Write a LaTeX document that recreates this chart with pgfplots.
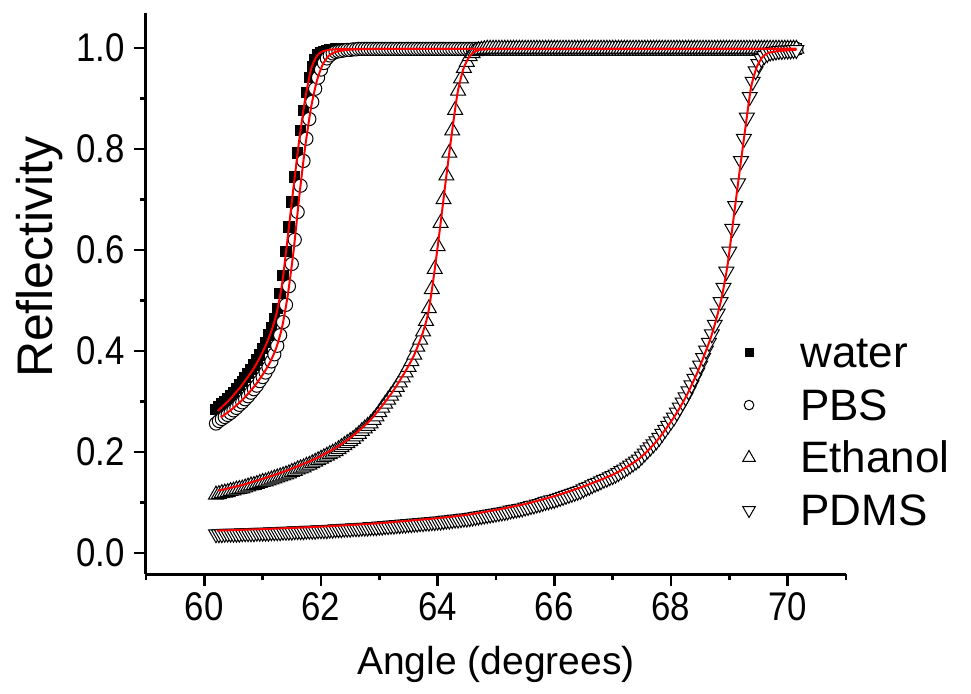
\documentclass[border=0pt]{standalone}
\usepackage{fontspec}
\setmainfont{Liberation Sans}
\newfontfamily\tickfont{Liberation Sans}[FakeStretch=0.87]
\usepackage{pgfplots}
\usepackage{pgfplotstable}
\pgfplotsset{compat=1.18}

% measured reflectivity, one row per angle step
\pgfplotstableread{
x water pbs eth pdms
60.20 0.284 0.256 0.115 0.037
60.25 0.289 0.261 0.116 0.037
60.30 0.295 0.265 0.118 0.037
60.35 0.300 0.269 0.119 0.038
60.40 0.306 0.273 0.120 0.038
60.45 0.312 0.277 0.122 0.038
60.50 0.318 0.282 0.123 0.038
60.55 0.325 0.287 0.125 0.038
60.60 0.332 0.293 0.126 0.038
60.65 0.339 0.298 0.127 0.039
60.70 0.347 0.304 0.129 0.039
60.75 0.355 0.310 0.131 0.039
60.80 0.363 0.317 0.133 0.039
60.85 0.372 0.324 0.134 0.039
60.90 0.382 0.331 0.136 0.040
60.95 0.392 0.340 0.138 0.040
61.00 0.404 0.348 0.140 0.040
61.05 0.417 0.357 0.141 0.040
61.10 0.431 0.367 0.143 0.040
61.15 0.445 0.379 0.145 0.041
61.20 0.463 0.393 0.147 0.041
61.25 0.484 0.410 0.149 0.041
61.30 0.513 0.431 0.151 0.041
61.35 0.549 0.457 0.153 0.042
61.40 0.597 0.491 0.155 0.042
61.45 0.645 0.528 0.157 0.042
61.50 0.695 0.572 0.160 0.042
61.55 0.744 0.620 0.162 0.043
61.60 0.792 0.675 0.165 0.043
61.65 0.836 0.727 0.167 0.043
61.70 0.876 0.776 0.169 0.043
61.75 0.912 0.820 0.172 0.044
61.80 0.941 0.859 0.174 0.044
61.85 0.963 0.893 0.177 0.044
61.90 0.976 0.919 0.180 0.044
61.95 0.986 0.941 0.183 0.045
62.00 0.990 0.957 0.186 0.045
62.05 0.993 0.970 0.189 0.045
62.10 0.995 0.979 0.192 0.045
62.15 0.996 0.985 0.195 0.046
62.20 0.997 0.989 0.198 0.046
62.25 0.998 0.992 0.201 0.047
62.30 0.998 0.993 0.205 0.047
62.35 0.998 0.994 0.209 0.047
62.40 0.998 0.995 0.213 0.048
62.45 0.998 0.996 0.217 0.048
62.50 0.998 0.996 0.221 0.048
62.55 0.998 0.997 0.225 0.049
62.60 0.998 0.997 0.230 0.049
62.65 0.998 0.998 0.235 0.049
62.70 0.998 0.998 0.241 0.050
62.75 0.998 0.998 0.246 0.050
62.80 0.998 0.998 0.251 0.050
62.85 0.998 0.998 0.256 0.051
62.90 0.998 0.998 0.263 0.051
62.95 0.998 0.998 0.270 0.051
63.00 0.998 0.998 0.278 0.052
63.05 0.998 0.998 0.287 0.052
63.10 0.998 0.998 0.295 0.053
63.15 0.998 0.998 0.303 0.053
63.20 0.998 0.998 0.311 0.054
63.25 0.998 0.998 0.319 0.054
63.30 0.998 0.998 0.328 0.055
63.35 0.998 0.998 0.337 0.055
63.40 0.998 0.998 0.347 0.056
63.45 0.998 0.998 0.357 0.056
63.50 0.998 0.998 0.368 0.057
63.55 0.998 0.998 0.379 0.057
63.60 0.998 0.998 0.392 0.058
63.65 0.998 0.998 0.408 0.058
63.70 0.998 0.998 0.422 0.059
63.75 0.998 0.998 0.438 0.059
63.80 0.998 0.998 0.459 0.060
63.85 0.998 0.998 0.484 0.060
63.90 0.998 0.998 0.522 0.061
63.95 0.998 0.998 0.562 0.061
64.00 0.998 0.998 0.607 0.062
64.05 0.998 0.998 0.653 0.062
64.10 0.998 0.998 0.700 0.063
64.15 0.998 0.998 0.747 0.064
64.20 0.998 0.998 0.792 0.064
64.25 0.998 0.998 0.836 0.065
64.30 0.998 0.998 0.877 0.066
64.35 0.998 0.998 0.915 0.066
64.40 0.998 0.998 0.939 0.067
64.45 0.998 0.998 0.960 0.068
64.50 0.998 0.998 0.972 0.068
64.55 0.998 0.998 0.983 0.069
64.60 0.998 0.998 0.989 0.070
64.65 0.998 0.998 0.993 0.071
64.70 0.998 0.998 0.995 0.072
64.75 0.998 0.998 0.996 0.073
64.80 0.998 0.998 0.997 0.074
64.85 0.998 0.998 0.998 0.075
64.90 0.998 0.998 0.998 0.076
64.95 0.998 0.998 0.998 0.077
65.00 0.998 0.998 0.998 0.078
65.05 0.998 0.998 0.998 0.079
65.10 0.998 0.998 0.998 0.080
65.15 0.998 0.998 0.998 0.081
65.20 0.998 0.998 0.998 0.082
65.25 0.998 0.998 0.998 0.084
65.30 0.998 0.998 0.998 0.085
65.35 0.998 0.998 0.998 0.086
65.40 0.998 0.998 0.998 0.087
65.45 0.998 0.998 0.998 0.088
65.50 0.998 0.998 0.998 0.090
65.55 0.998 0.998 0.998 0.091
65.60 0.998 0.998 0.998 0.093
65.65 0.998 0.998 0.998 0.094
65.70 0.998 0.998 0.998 0.096
65.75 0.998 0.998 0.998 0.097
65.80 0.998 0.998 0.998 0.099
65.85 0.998 0.998 0.998 0.101
65.90 0.998 0.998 0.998 0.102
65.95 0.998 0.998 0.998 0.104
66.00 0.998 0.998 0.998 0.105
66.05 0.998 0.998 0.998 0.107
66.10 0.998 0.998 0.998 0.109
66.15 0.998 0.998 0.998 0.111
66.20 0.998 0.998 0.998 0.113
66.25 0.998 0.998 0.998 0.115
66.30 0.998 0.998 0.998 0.117
66.35 0.998 0.998 0.998 0.119
66.40 0.998 0.998 0.998 0.121
66.45 0.998 0.998 0.998 0.123
66.50 0.998 0.998 0.998 0.126
66.55 0.998 0.998 0.998 0.129
66.60 0.998 0.998 0.998 0.131
66.65 0.998 0.998 0.998 0.134
66.70 0.998 0.998 0.998 0.137
66.75 0.998 0.998 0.998 0.139
66.80 0.998 0.998 0.998 0.142
66.85 0.998 0.998 0.998 0.145
66.90 0.998 0.998 0.998 0.147
66.95 0.998 0.998 0.998 0.150
67.00 0.998 0.998 0.998 0.152
67.05 0.998 0.998 0.998 0.155
67.10 0.998 0.998 0.998 0.158
67.15 0.998 0.998 0.998 0.162
67.20 0.998 0.998 0.998 0.165
67.25 0.998 0.998 0.998 0.169
67.30 0.998 0.998 0.998 0.173
67.35 0.998 0.998 0.998 0.177
67.40 0.998 0.998 0.998 0.181
67.45 0.998 0.998 0.998 0.185
67.50 0.998 0.998 0.998 0.191
67.55 0.998 0.998 0.998 0.197
67.60 0.998 0.998 0.998 0.203
67.65 0.998 0.998 0.998 0.209
67.70 0.998 0.998 0.998 0.215
67.75 0.998 0.998 0.998 0.221
67.80 0.998 0.998 0.998 0.228
67.85 0.998 0.998 0.998 0.236
67.90 0.998 0.998 0.998 0.244
67.95 0.998 0.998 0.998 0.252
68.00 0.998 0.998 0.998 0.260
68.05 0.998 0.998 0.998 0.268
68.10 0.998 0.998 0.998 0.278
68.15 0.998 0.998 0.998 0.288
68.20 0.998 0.998 0.998 0.298
68.25 0.998 0.998 0.998 0.308
68.30 0.998 0.998 0.998 0.320
68.35 0.998 0.998 0.998 0.332
68.40 0.998 0.998 0.998 0.345
68.45 0.998 0.998 0.998 0.357
68.50 0.998 0.998 0.998 0.371
68.55 0.998 0.998 0.998 0.386
68.60 0.998 0.998 0.998 0.401
68.65 0.998 0.998 0.998 0.416
68.70 0.998 0.998 0.998 0.433
68.75 0.998 0.998 0.998 0.452
68.80 0.998 0.998 0.998 0.474
68.85 0.998 0.998 0.998 0.497
68.90 0.998 0.998 0.998 0.525
68.95 0.998 0.998 0.998 0.557
69.00 0.998 0.998 0.998 0.597
69.05 0.998 0.998 0.998 0.642
69.10 0.998 0.998 0.998 0.687
69.15 0.998 0.998 0.998 0.732
69.20 0.998 0.998 0.998 0.776
69.25 0.998 0.998 0.998 0.820
69.30 0.998 0.998 0.998 0.862
69.35 0.998 0.998 0.998 0.903
69.40 0.998 0.998 0.998 0.933
69.45 0.998 0.998 0.998 0.954
69.50 0.998 0.998 0.998 0.968
69.55 0.998 0.998 0.998 0.978
69.60 0.998 0.998 0.998 0.984
69.65 0.998 0.998 0.998 0.988
69.70 0.998 0.998 0.998 0.991
69.75 0.998 0.998 0.998 0.992
69.80 0.998 0.998 0.998 0.993
69.85 0.998 0.998 0.998 0.994
69.90 0.998 0.998 0.998 0.994
69.95 0.998 0.998 0.998 0.995
70.00 0.998 0.998 0.998 0.995
70.05 0.998 0.998 0.998 0.995
70.10 0.998 0.998 0.998 0.996
70.15 0.998 0.998 0.998 0.996
}\data

% fitted curves (red)
\pgfplotstableread{
x y
60.23 0.281
60.43 0.303
60.63 0.330
60.83 0.362
60.93 0.382
61.03 0.405
61.13 0.433
61.23 0.470
61.33 0.530
61.43 0.625
61.53 0.725
61.63 0.820
61.73 0.900
61.83 0.958
61.93 0.984
62.03 0.993
62.23 0.997
63.00 0.998
70.15 0.998
}\fitW

\pgfplotstableread{
x y
60.28 0.268
60.48 0.285
60.68 0.306
60.88 0.333
61.03 0.358
61.13 0.378
61.23 0.405
61.33 0.445
61.43 0.510
61.53 0.598
61.63 0.708
61.73 0.805
61.83 0.882
61.93 0.935
62.03 0.967
62.13 0.984
62.23 0.991
62.38 0.995
62.63 0.997
63.50 0.998
70.15 0.998
}\fitP

\pgfplotstableread{
x y
60.24 0.123
60.64 0.134
61.04 0.148
61.44 0.164
61.84 0.183
62.24 0.207
62.54 0.231
62.84 0.262
63.04 0.290
63.24 0.321
63.44 0.358
63.59 0.390
63.74 0.434
63.84 0.476
63.94 0.553
64.04 0.643
64.14 0.738
64.24 0.828
64.34 0.910
64.44 0.958
64.54 0.982
64.64 0.993
64.79 0.997
65.50 0.998
70.15 0.998
}\fitE

\pgfplotstableread{
x y
60.22 0.044
61.03 0.047
62.03 0.052
63.04 0.059
64.04 0.069
64.55 0.076
65.05 0.086
65.55 0.098
66.05 0.114
66.56 0.134
67.06 0.158
67.46 0.187
67.76 0.222
68.06 0.270
68.27 0.312
68.47 0.362
68.67 0.422
68.77 0.460
68.87 0.506
68.97 0.570
69.07 0.660
69.17 0.750
69.27 0.837
69.37 0.920
69.47 0.962
69.57 0.982
69.67 0.990
69.87 0.994
70.15 0.996
}\fitD

\begin{document}
\begin{tikzpicture}
\useasboundingbox (-73pt,-59.5pt) rectangle (412.5pt,287pt);
\begin{axis}[
    at={(0,0)}, anchor=south west,
    scale only axis,
    width=350pt, height=280.5pt,
    xmin=59, xmax=71,
    ymin=-0.042, ymax=1.069,
    clip mode=individual,
    axis lines=left,
    axis line style={-, line width=1.5pt},
    every outer x axis line/.append style={-},
    every outer y axis line/.append style={-},
    tick align=outside,
    major tick length=6pt,
    minor tick length=3.2pt,
    every tick/.style={black, line width=1.3pt},
    xtick={60,62,64,66,68,70},
    minor xtick={59,61,63,65,67,69,71},
    ytick={0,0.2,0.4,0.6,0.8,1.0},
    minor ytick={0.1,0.3,0.5,0.7,0.9},
    /pgf/number format/assume math mode=true,
    tick label style={font=\tickfont\fontsize{20}{20}\selectfont},
    xticklabel style={inner sep=0pt},
    yticklabel style={inner sep=0pt, /pgf/number format/.cd, fixed, fixed zerofill, precision=1},
    xticklabel shift=3pt,
    yticklabel shift=4.5pt,
    xlabel={Angle (degrees)},
    ylabel={Reflectivity},
    xlabel style={at={(axis description cs:0.5,-0.1615)}, anchor=center, font=\fontsize{19.5}{19.5}\selectfont},
    ylabel style={at={(axis description cs:-0.152,0.565)}, anchor=center, font=\fontsize{25}{25}\selectfont},
    legend cell align=left,
    legend style={at={(0.852,0.433)}, anchor=north west, draw=none, fill=none,
        inner sep=0pt, row sep=5.3pt, column sep=22.5pt,
        font=\fontsize{22}{22}\selectfont,
        nodes={inner sep=0pt, text height=18pt, text depth=3pt}},
]

\addplot[only marks, mark=square*, mark size=2.6pt,
    mark options={fill=black, draw=black, line width=0.5pt},
    legend image post style={only marks, mark size=2pt}]
    table[x=x, y=water] {\data};
\addlegendentry{water}

\addplot[only marks, mark=*, mark size=3.3pt,
    mark options={fill=white, draw=black, line width=0.5pt},
    legend image post style={only marks, mark size=2.4pt}]
    table[x=x, y=pbs] {\data};
\addlegendentry{PBS}

\addplot[only marks, mark=triangle*, mark size=4.3pt,
    mark options={fill=white, draw=black, line width=0.5pt},
    legend image post style={only marks, mark size=3.6pt}]
    table[x=x, y=eth] {\data};
\addlegendentry{Ethanol}

\addplot[only marks, mark=triangle*, mark size=4.3pt,
    mark options={fill=white, draw=black, line width=0.5pt, rotate=180},
    legend image post style={only marks, mark size=3.6pt}]
    table[x=x, y=pdms] {\data};
\addlegendentry{PDMS}

\addplot[red, line width=1pt, smooth, tension=0.4, forget plot] table {\fitW};
\addplot[red, line width=1pt, smooth, tension=0.4, forget plot] table {\fitP};
\addplot[red, line width=1pt, smooth, tension=0.4, forget plot] table {\fitE};
\addplot[red, line width=1pt, smooth, tension=0.4, forget plot] table {\fitD};

\end{axis}
\end{tikzpicture}
\end{document}
